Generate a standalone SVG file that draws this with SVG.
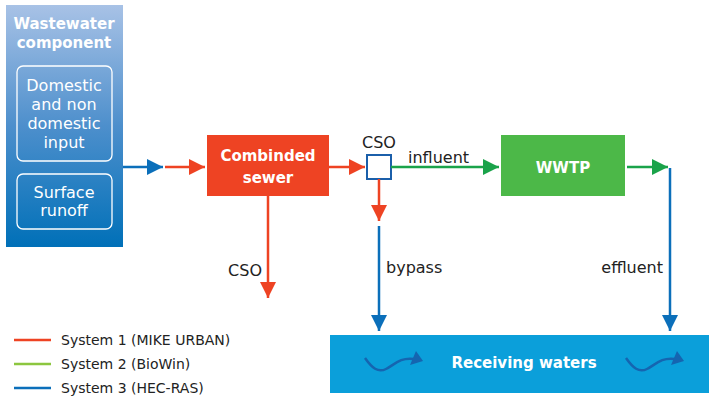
<svg xmlns="http://www.w3.org/2000/svg" width="709" height="396" viewBox="0 0 709 396">
<defs>
<linearGradient id="gp" x1="0" y1="0" x2="0" y2="1">
<stop offset="0" stop-color="#a8c2e6"/>
<stop offset="0.5" stop-color="#4d8fcc"/>
<stop offset="1" stop-color="#0070b8"/>
</linearGradient>
<marker id="ar" viewBox="0 0 16 16" refX="16" refY="8" markerWidth="16" markerHeight="16" markerUnits="userSpaceOnUse" orient="auto"><path d="M0,0 L16,8 L0,16 Z" fill="#ee4323"/></marker>
<marker id="ab" viewBox="0 0 16 16" refX="16" refY="8" markerWidth="16" markerHeight="16" markerUnits="userSpaceOnUse" orient="auto"><path d="M0,0 L16,8 L0,16 Z" fill="#0b6fba"/></marker>
<marker id="ag" viewBox="0 0 16 16" refX="16" refY="8" markerWidth="16" markerHeight="16" markerUnits="userSpaceOnUse" orient="auto"><path d="M0,0 L16,8 L0,16 Z" fill="#1aa34a"/></marker>
</defs>
<style>
text{font-family:"DejaVu Sans","Open Sans",sans-serif;}
.w{fill:#fff;font-weight:bold;font-size:15px;text-anchor:middle;}
.wl{fill:#fff;font-size:16px;text-anchor:middle;}
.l{fill:#222;font-size:16px;}
.lg{fill:#222;font-size:14px;}
.r{stroke:#ee4323;stroke-width:2.5;fill:none;}
.b{stroke:#0b6fba;stroke-width:2.5;fill:none;}
.g{stroke:#1aa34a;stroke-width:2.5;fill:none;}
.inner{fill:none;stroke:#fff;stroke-width:1.3;}
.wave{stroke:#1565b0;stroke-width:2.5;fill:none;}
</style>
<g id="wastewater">
<rect x="6" y="5" width="117" height="242" fill="url(#gp)"/>
<text class="w" x="64" y="29">Wastewater</text>
<text class="w" x="64" y="48">component</text>
</g>
<g id="domestic">
<rect class="inner" x="17" y="66" width="95" height="95" rx="6"/>
<text class="wl" x="64" y="91">Domestic</text>
<text class="wl" x="64" y="110">and non</text>
<text class="wl" x="64" y="129">domestic</text>
<text class="wl" x="64" y="148">input</text>
</g>
<g id="runoff">
<rect class="inner" x="17" y="174" width="95" height="55" rx="6"/>
<text class="wl" x="64" y="198">Surface</text>
<text class="wl" x="64" y="216">runoff</text>
</g>
<g id="sewer">
<rect x="207" y="135" width="122" height="61" fill="#ee4323"/>
<text class="w" x="268" y="161">Combinded</text>
<text class="w" x="268" y="183">sewer</text>
</g>
<g id="cso">
<rect x="367" y="155" width="24" height="24" fill="#fff" stroke="#1b5faa" stroke-width="2"/>
<text class="l" x="379" y="148" text-anchor="middle">CSO</text>
</g>
<g id="wwtp">
<rect x="501" y="135" width="124" height="61" fill="#4cb848"/>
<text class="w" x="563" y="173">WWTP</text>
</g>
<g id="receiving">
<rect x="330" y="335" width="379" height="58" fill="#0b9fda"/>
<text class="w" x="524" y="368">Receiving waters</text>
<path class="wave" d="M365,358 C372,368 378,373 386,369 C394,365 400,357 414,359"/>
<path d="M416,351 L423,361 L410,365 Z" fill="#1565b0"/>
<path class="wave" d="M626,358 C633,368 639,373 647,369 C655,365 661,357 675,359"/>
<path d="M677,351 L684,361 L671,365 Z" fill="#1565b0"/>
</g>
<g id="connectors">
<line class="b" x1="123" y1="167" x2="163" y2="167" marker-end="url(#ab)"/>
<line class="r" x1="165" y1="167" x2="205" y2="167" marker-end="url(#ar)"/>
<line class="r" x1="329" y1="167" x2="365" y2="167" marker-end="url(#ar)"/>
<line class="g" x1="391" y1="167" x2="499" y2="167" marker-end="url(#ag)"/>
<line class="g" x1="627" y1="167" x2="668" y2="167" marker-end="url(#ag)"/>
<line class="b" x1="670" y1="168" x2="670" y2="331" marker-end="url(#ab)"/>
<line class="r" x1="379" y1="179" x2="379" y2="221" marker-end="url(#ar)"/>
<line class="b" x1="379" y1="226" x2="379" y2="331" marker-end="url(#ab)"/>
<line class="r" x1="268" y1="196" x2="268" y2="298" marker-end="url(#ar)"/>
<text class="l" x="408" y="163">influent</text>
<text class="l" x="386" y="273">bypass</text>
<text class="l" x="663" y="273" text-anchor="end">effluent</text>
<text class="l" x="262" y="276" text-anchor="end">CSO</text>
</g>
<g id="legend">
<line class="r" x1="14" y1="340" x2="51" y2="340"/>
<line stroke="#8cc63f" stroke-width="2.5" x1="14" y1="364" x2="51" y2="364"/>
<line class="b" x1="14" y1="388" x2="51" y2="388"/>
<text class="lg" x="61" y="345">System 1 (MIKE URBAN)</text>
<text class="lg" x="61" y="369">System 2 (BioWin)</text>
<text class="lg" x="61" y="393">System 3 (HEC-RAS)</text>
</g>
</svg>
